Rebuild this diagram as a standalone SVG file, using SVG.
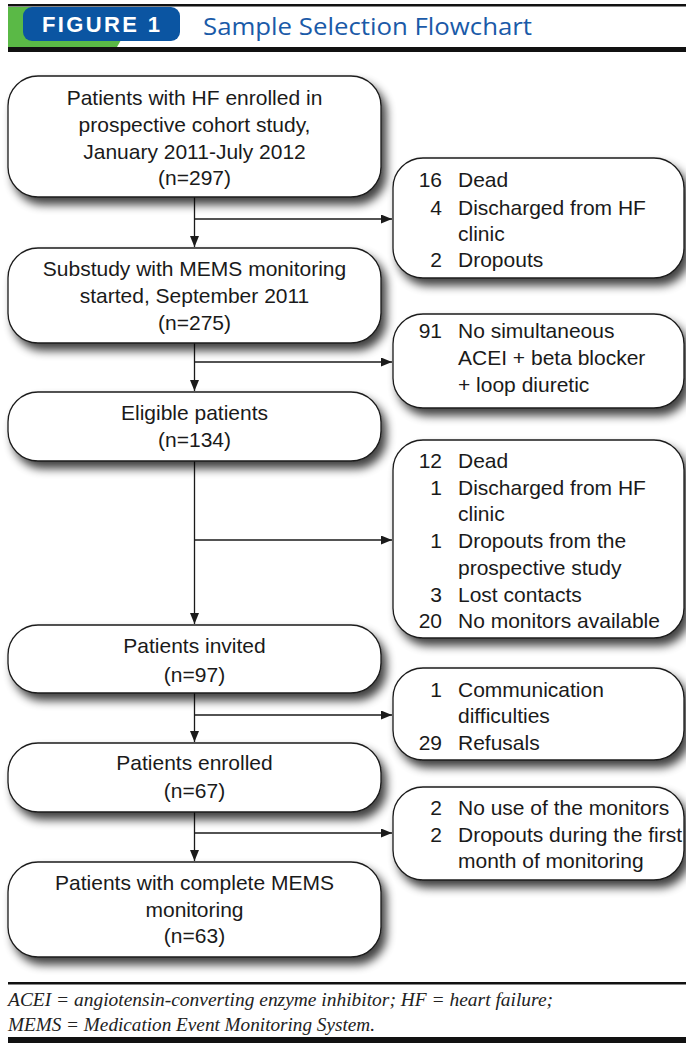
<svg xmlns="http://www.w3.org/2000/svg" width="686" height="1045" viewBox="0 0 686 1045">
<style>
.box{fill:#fff;stroke:#1a1a1a;stroke-width:1.3}
.t{font-family:"Liberation Sans",Arial,sans-serif;font-size:21px;fill:#1a1a1a}
.c{text-anchor:middle}
.n{text-anchor:end}
.ln{fill:none;stroke:#1a1a1a;stroke-width:1.3}
.foot{font-family:"Liberation Serif","Times New Roman",serif;font-style:italic;font-size:18px;fill:#222}
</style>
<defs>
<filter id="sh" x="-10%" y="-15%" width="130%" height="150%">
<feGaussianBlur in="SourceAlpha" stdDeviation="5"/>
<feOffset dx="5" dy="7"/>
<feComponentTransfer><feFuncA type="linear" slope="0.75"/></feComponentTransfer>
<feMerge><feMergeNode/><feMergeNode in="SourceGraphic"/></feMerge>
</filter>
<marker id="ah" markerWidth="11" markerHeight="9" refX="11" refY="4.5" orient="auto" markerUnits="userSpaceOnUse">
<path d="M0,0 L11,4.5 L0,9 z" fill="#1a1a1a"/>
</marker>
</defs>
<rect x="0" y="0" width="686" height="1045" fill="#fff"/>
<g id="header">
<rect x="8" y="4" width="678" height="2.5" fill="#111"/>
<path d="M8,7 L140,7 L117,47 L8,47 z" fill="#5ab946"/>
<rect x="23" y="7" width="157" height="34" rx="9" fill="#0b55a2"/>
<text x="42" y="32" font-family="Liberation Sans,Arial,sans-serif" font-weight="bold" font-size="22" fill="#fff" textLength="118" lengthAdjust="spacing">FIGURE 1</text>
<text x="203" y="35" font-family="Open Sans,Liberation Sans,sans-serif" font-size="24" fill="#1a5aa8" textLength="329" lengthAdjust="spacingAndGlyphs">Sample Selection Flowchart</text>
<rect x="8" y="47" width="678" height="5" fill="#111"/>
</g>
<g id="connectors">
<line class="ln" x1="194.5" y1="197" x2="194.5" y2="247" marker-end="url(#ah)"/>
<line class="ln" x1="194.5" y1="219" x2="392" y2="219" marker-end="url(#ah)"/>
<line class="ln" x1="194.5" y1="343" x2="194.5" y2="391" marker-end="url(#ah)"/>
<line class="ln" x1="194.5" y1="362" x2="392" y2="362" marker-end="url(#ah)"/>
<line class="ln" x1="194.5" y1="461" x2="194.5" y2="624" marker-end="url(#ah)"/>
<line class="ln" x1="194.5" y1="540" x2="392" y2="540" marker-end="url(#ah)"/>
<line class="ln" x1="194.5" y1="693" x2="194.5" y2="742" marker-end="url(#ah)"/>
<line class="ln" x1="194.5" y1="715" x2="392" y2="715" marker-end="url(#ah)"/>
<line class="ln" x1="194.5" y1="812" x2="194.5" y2="861" marker-end="url(#ah)"/>
<line class="ln" x1="194.5" y1="833" x2="392" y2="833" marker-end="url(#ah)"/>
</g>
<g id="n1">
<rect class="box" filter="url(#sh)" x="8" y="76" width="373" height="121" rx="30"/>
<text class="t c" x="194.5" y="105">Patients with HF enrolled in</text>
<text class="t c" x="194.5" y="132">prospective cohort study,</text>
<text class="t c" x="194.5" y="159">January 2011-July 2012</text>
<text class="t c" x="194.5" y="185">(n=297)</text>
</g>
<g id="n2">
<rect class="box" filter="url(#sh)" x="8" y="248" width="373" height="95" rx="30"/>
<text class="t c" x="194.5" y="276">Substudy with MEMS monitoring</text>
<text class="t c" x="194.5" y="303">started, September 2011</text>
<text class="t c" x="194.5" y="330">(n=275)</text>
</g>
<g id="n3">
<rect class="box" filter="url(#sh)" x="8" y="392" width="373" height="69" rx="30"/>
<text class="t c" x="194.5" y="420">Eligible patients</text>
<text class="t c" x="194.5" y="447">(n=134)</text>
</g>
<g id="n4">
<rect class="box" filter="url(#sh)" x="8" y="625" width="373" height="68" rx="30"/>
<text class="t c" x="194.5" y="653">Patients invited</text>
<text class="t c" x="194.5" y="682">(n=97)</text>
</g>
<g id="n5">
<rect class="box" filter="url(#sh)" x="8" y="743" width="373" height="69" rx="30"/>
<text class="t c" x="194.5" y="770">Patients enrolled</text>
<text class="t c" x="194.5" y="798">(n=67)</text>
</g>
<g id="n6">
<rect class="box" filter="url(#sh)" x="8" y="862" width="373" height="95" rx="30"/>
<text class="t c" x="194.5" y="890">Patients with complete MEMS</text>
<text class="t c" x="194.5" y="917">monitoring</text>
<text class="t c" x="194.5" y="943">(n=63)</text>
</g>
<g id="e1">
<rect class="box" filter="url(#sh)" x="393" y="158" width="291" height="120" rx="30"/>
<text class="t n" x="442" y="187">16</text><text class="t" x="458" y="187">Dead</text>
<text class="t n" x="442" y="215">4</text><text class="t" x="458" y="215">Discharged from HF</text>
<text class="t" x="458" y="241">clinic</text>
<text class="t n" x="442" y="267">2</text><text class="t" x="458" y="267">Dropouts</text>
</g>
<g id="e2">
<rect class="box" filter="url(#sh)" x="393" y="314" width="291" height="94" rx="30"/>
<text class="t n" x="442" y="338">91</text><text class="t" x="458" y="338">No simultaneous</text>
<text class="t" x="458" y="365">ACEI + beta blocker</text>
<text class="t" x="458" y="392">+ loop diuretic</text>
</g>
<g id="e3">
<rect class="box" filter="url(#sh)" x="393" y="440" width="291" height="198" rx="30"/>
<text class="t n" x="442" y="468">12</text><text class="t" x="458" y="468">Dead</text>
<text class="t n" x="442" y="495">1</text><text class="t" x="458" y="495">Discharged from HF</text>
<text class="t" x="458" y="521">clinic</text>
<text class="t n" x="442" y="548">1</text><text class="t" x="458" y="548">Dropouts from the</text>
<text class="t" x="458" y="575">prospective study</text>
<text class="t n" x="442" y="602">3</text><text class="t" x="458" y="602">Lost contacts</text>
<text class="t n" x="442" y="628">20</text><text class="t" x="458" y="628">No monitors available</text>
</g>
<g id="e4">
<rect class="box" filter="url(#sh)" x="393" y="668" width="291" height="92" rx="30"/>
<text class="t n" x="442" y="697">1</text><text class="t" x="458" y="697">Communication</text>
<text class="t" x="458" y="723">difficulties</text>
<text class="t n" x="442" y="750">29</text><text class="t" x="458" y="750">Refusals</text>
</g>
<g id="e5">
<rect class="box" filter="url(#sh)" x="393" y="787" width="291" height="93" rx="30"/>
<text class="t n" x="442" y="815">2</text><text class="t" x="458" y="815">No use of the monitors</text>
<text class="t n" x="442" y="842">2</text><text class="t" x="458" y="842">Dropouts during the first</text>
<text class="t" x="458" y="868">month of monitoring</text>
</g>
<g id="footer">
<rect x="8" y="982" width="678" height="2.5" fill="#111"/>
<text class="foot" x="8" y="1006" textLength="545" lengthAdjust="spacingAndGlyphs">ACEI = angiotensin-converting enzyme inhibitor; HF = heart failure;</text>
<text class="foot" x="8" y="1031" textLength="367" lengthAdjust="spacingAndGlyphs">MEMS = Medication Event Monitoring System.</text>
<rect x="8" y="1037" width="678" height="6" fill="#111"/>
</g>
</svg>
